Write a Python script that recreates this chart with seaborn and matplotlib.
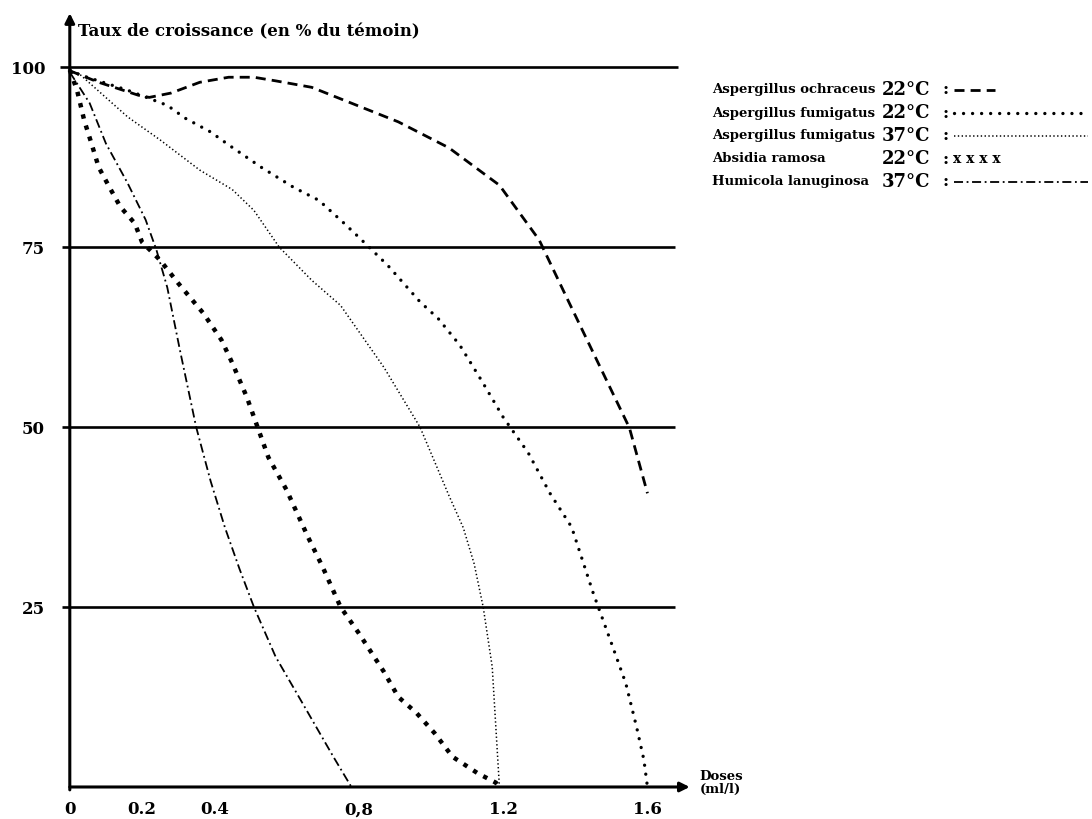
import pandas as pd
import seaborn as sns
import matplotlib.pyplot as plt
from matplotlib.lines import Line2D

# growth rate (% of control) against dose (ml/l)
ochr_dose = [0.0, 0.08, 0.19, 0.22, 0.28, 0.36, 0.44, 0.51, 0.57, 0.67,
             0.78, 0.91, 1.05, 1.19, 1.30, 1.38, 1.55, 1.60]
ochr_rate = [99.5, 97.9, 96.1, 95.8, 96.4, 97.9, 98.6, 98.6, 98.1, 97.2,
             95.0, 92.4, 88.8, 83.6, 76.0, 67.6, 49.9, 40.8]

fum22_dose = [0.0, 0.03, 0.16, 0.27, 0.32, 0.39, 0.44, 0.53, 0.62, 0.69,
              0.76, 0.80, 0.88, 0.97, 1.02, 1.08, 1.14, 1.20, 1.27, 1.33,
              1.39, 1.45, 1.50, 1.54, 1.57, 1.59, 1.60]
fum22_rate = [99.6, 98.9, 96.8, 94.7, 92.9, 91.0, 89.2, 86.1, 83.3, 81.5,
              78.3, 76.4, 72.5, 67.4, 65.1, 61.4, 56.5, 51.4, 46.4, 40.8,
              36.1, 26.9, 20.0, 14.4, 8.3, 3.8, 0.0]

fum37_dose = [0.0, 0.03, 0.16, 0.25, 0.36, 0.45, 0.51, 0.58, 0.67, 0.75,
              0.87, 0.97, 1.05, 1.09, 1.12, 1.145, 1.17, 1.19]
fum37_rate = [99.6, 98.9, 93.1, 89.9, 85.7, 83.0, 80.1, 75.0, 70.4, 66.9,
              58.3, 50.0, 40.5, 36.0, 31.0, 25.0, 16.7, 0.0]

absidia_dose = [0.0, 0.02, 0.04, 0.06, 0.08, 0.11, 0.14, 0.18, 0.20, 0.25,
                0.30, 0.37, 0.42, 0.45, 0.49, 0.52, 0.55, 0.60, 0.66, 0.70,
                0.75, 0.80, 0.87, 0.91, 0.96, 1.01, 1.06, 1.13, 1.18, 1.19]
absidia_rate = [99.6, 96.8, 92.6, 89.4, 86.1, 83.3, 80.6, 78.3, 75.7, 73.2,
                70.0, 65.8, 62.1, 58.9, 54.2, 50.0, 45.8, 41.3, 34.7, 30.6,
                25.0, 21.4, 16.0, 12.5, 10.3, 7.5, 4.2, 1.9, 0.6, 0.0]

humicola_dose = [0.0, 0.055, 0.10, 0.16, 0.21, 0.24, 0.27, 0.305, 0.35,
                 0.39, 0.43, 0.47, 0.51, 0.57, 0.66, 0.73, 0.78]
humicola_rate = [99.3, 95.0, 89.4, 83.9, 78.8, 74.6, 69.4, 60.7, 50.0,
                 42.5, 36.0, 30.3, 25.0, 18.1, 10.3, 4.2, 0.0]

species = ["Aspergillus ochraceus", "Aspergillus fumigatus",
           "Aspergillus fumigatus", "Absidia ramosa", "Humicola lanuginosa"]
temps = ["22°C", "22°C", "37°C", "22°C", "37°C"]

ref_levels = [25, 50, 75, 100]
x_ticks = [0, 0.2, 0.4, 0.8, 1.2, 1.6]
x_labels = ["0", "0.2", "0.4", "0,8", "1.2", "1.6"]

# long table, one block per curve
curves = [ochr_dose, fum22_dose, fum37_dose, absidia_dose, humicola_dose]
rates = [ochr_rate, fum22_rate, fum37_rate, absidia_rate, humicola_rate]
df = pd.concat([pd.DataFrame({"dose": d, "rate": r, "curve": i})
                for i, (d, r) in enumerate(zip(curves, rates))])

# line look of each curve (black and white print)
styles = [
    dict(lw=2.0, linestyle=(0, (3.6, 2.2)), dash_capstyle="butt"),
    dict(lw=2.4, linestyle=(0, (0.01, 2.7)), dash_capstyle="round"),
    dict(lw=1.1, linestyle=(0, (0.9, 1.6)), dash_capstyle="butt"),
    dict(lw=3.2, linestyle=(0, (1.0, 1.6)), dash_capstyle="butt"),
    dict(lw=1.3, linestyle=(0, (5, 2, 1, 2)), dash_capstyle="butt"),
]

sns.set_style("white")
plt.rcParams["font.family"] = ["DejaVu Serif"]
plt.rcParams["font.weight"] = "bold"
plt.rcParams["text.color"] = "black"
plt.rcParams["xtick.color"] = "black"
plt.rcParams["ytick.color"] = "black"

W, H = 1092, 819
fig = plt.figure(figsize=(W / 100, H / 100), dpi=100)
ax = fig.add_axes([0.054, 0.0303, 0.5852, 0.958])
ax.set_xlim(-0.03, 1.74)
ax.set_ylim(-1, 108)

for i, st in enumerate(styles):
    sns.lineplot(data=df[df["curve"] == i], x="dose", y="rate",
                 color="black", estimator=None, legend=False, ax=ax, **st)

# reference lines and arrowed axes
ax.hlines(ref_levels[:-1], -0.022, 1.676, color="black", lw=1.9)
ax.hlines(ref_levels[-1], -0.028, 1.684, color="black", lw=1.9)
arrow = dict(arrowstyle="-|>", color="black", lw=2.2, mutation_scale=14,
             shrinkA=0, shrinkB=0)
ax.annotate("", xy=(0, 107.5), xytext=(0, -0.4), arrowprops=arrow)
ax.annotate("", xy=(1.717, 0), xytext=(0, 0), arrowprops=arrow)

for s in ax.spines.values():
    s.set_visible(False)
ax.set_xticks(x_ticks)
ax.set_xticklabels(x_labels)
ax.set_yticks(ref_levels)
ax.set_yticklabels([str(v) for v in ref_levels])
ax.tick_params(axis="x", length=0, pad=5, labelsize=12)
ax.tick_params(axis="y", length=0, pad=10, labelsize=12)
ax.set_xlabel("")
ax.set_ylabel("")

ax.text(0.022, 104.9, "Taux de croissance (en % du témoin)",
        fontsize=12, fontweight="bold", va="center")
ax.text(1.745, 0.5, "Doses\n(ml/l)", fontsize=9.5, fontweight="bold",
        va="center", linespacing=1.0)

# key written beside the plot
row_y = [90, 113, 136, 159, 182]
for i, (name, t) in enumerate(zip(species, temps)):
    y = 1 - row_y[i] / H
    fig.text(712 / W, y, name, fontsize=9.5, fontweight="bold", va="center")
    fig.text(882 / W, y, t, fontsize=13, fontweight="bold", va="center")
    fig.text(942 / W, y, ":", fontsize=12, fontweight="bold", va="center")
    if i == 3:
        fig.text(953 / W, y, "x x x x", fontsize=10, fontweight="bold",
                 va="center")
    else:
        end = 995 if i == 0 else 1088
        fig.add_artist(Line2D([954 / W, end / W], [y, y], color="black",
                              **styles[i]))

fig.savefig("out.png", dpi=100)
